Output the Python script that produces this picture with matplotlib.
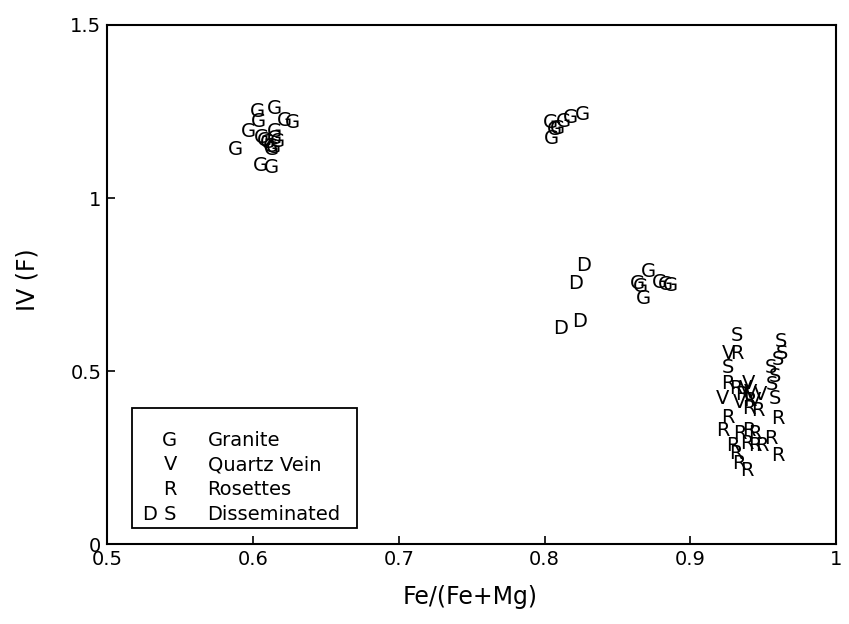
import matplotlib
matplotlib.use("Agg")
import matplotlib.pyplot as plt
from matplotlib.patches import Rectangle

# 数据: Fe/(Fe+Mg) 和 IV(F)
granite_x = [0.588, 0.597, 0.603, 0.604, 0.615, 0.622, 0.627, 0.606, 0.615, 0.615,
             0.610, 0.612, 0.614, 0.608, 0.617, 0.613, 0.605, 0.613,
             0.826, 0.818, 0.813, 0.804, 0.807, 0.805, 0.809,
             0.871, 0.8635, 0.8656, 0.8676, 0.879, 0.883, 0.886]
granite_y = [1.139, 1.191, 1.249, 1.220, 1.260, 1.225, 1.217, 1.176, 1.191, 1.173,
             1.159, 1.150, 1.145, 1.165, 1.162, 1.139, 1.095, 1.087,
             1.240, 1.234, 1.220, 1.217, 1.197, 1.173, 1.202,
             0.789, 0.754, 0.743, 0.711, 0.757, 0.749, 0.746]

vein_x = [0.926, 0.922, 0.938, 0.941, 0.944, 0.934, 0.948, 0.940]
vein_y = [0.552, 0.422, 0.451, 0.439, 0.416, 0.410, 0.431, 0.465]

rosette_x = [0.932, 0.926, 0.931, 0.935, 0.941, 0.940, 0.946, 0.926, 0.922, 0.934, 0.940,
             0.944, 0.929, 0.939, 0.944, 0.949, 0.955, 0.960, 0.931, 0.933, 0.939, 0.960]
rosette_y = [0.552, 0.465, 0.451, 0.431, 0.416, 0.393, 0.387, 0.367, 0.329, 0.321, 0.329,
             0.321, 0.286, 0.292, 0.286, 0.286, 0.306, 0.257, 0.263, 0.234, 0.214, 0.364]

dissem_d_x = [0.8265, 0.821, 0.811, 0.824]
dissem_d_y = [0.806, 0.754, 0.624, 0.642]

dissem_s_x = [0.932, 0.926, 0.962, 0.963, 0.960, 0.955, 0.958, 0.956, 0.958]
dissem_s_y = [0.604, 0.509, 0.584, 0.552, 0.532, 0.509, 0.483, 0.460, 0.422]

legend_symbols = ["G", "V", "R", "D S"]
legend_names = ["Granite", "Quartz Vein", "Rosettes", "Disseminated"]

plt.rcParams['font.family'] = ['DejaVu Sans']

fig = plt.figure(figsize=(8.49, 6.24), dpi=100)
ax = fig.add_axes([0.126, 0.128, 0.859, 0.832])

# 用字母作为散点标记
groups = [("G", granite_x, granite_y), ("V", vein_x, vein_y),
          ("R", rosette_x, rosette_y), ("D", dissem_d_x, dissem_d_y),
          ("S", dissem_s_x, dissem_s_y)]
for letter, xs, ys in groups:
    for x, y in zip(xs, ys):
        ax.text(x, y, letter, ha="center", va="center", fontsize=14)

ax.set_xlim(0.5, 1.0)
ax.set_ylim(0, 1.5)
ax.set_xticks([0.5, 0.6, 0.7, 0.8, 0.9, 1.0])
ax.set_xticklabels(["0.5", "0.6", "0.7", "0.8", "0.9", "1"])
ax.set_yticks([0, 0.5, 1.0, 1.5])
ax.set_yticklabels(["0", "0.5", "1", "1.5"])
ax.tick_params(direction="in", length=6, width=1.2, labelsize=14, pad=4)
for s in ax.spines.values():
    s.set_linewidth(1.5)

ax.set_xlabel("Fe/(Fe+Mg)", fontsize=17)
ax.xaxis.set_label_coords(0.498, -0.078)
ax.set_ylabel("IV (F)", fontsize=17)
ax.yaxis.set_label_coords(-0.092, 0.509)

# 图例框
ax.add_patch(Rectangle((0.034, 0.031), 0.309, 0.231, transform=ax.transAxes,
                       fill=False, linewidth=1.3, zorder=5))
for i, (sym, name) in enumerate(zip(legend_symbols, legend_names)):
    yy = 0.2 - i * 0.0475
    ax.text(0.096, yy, sym, transform=ax.transAxes, ha="right", va="center", fontsize=14)
    ax.text(0.138, yy, name, transform=ax.transAxes, ha="left", va="center", fontsize=14)

plt.savefig("out.png", dpi=100)
